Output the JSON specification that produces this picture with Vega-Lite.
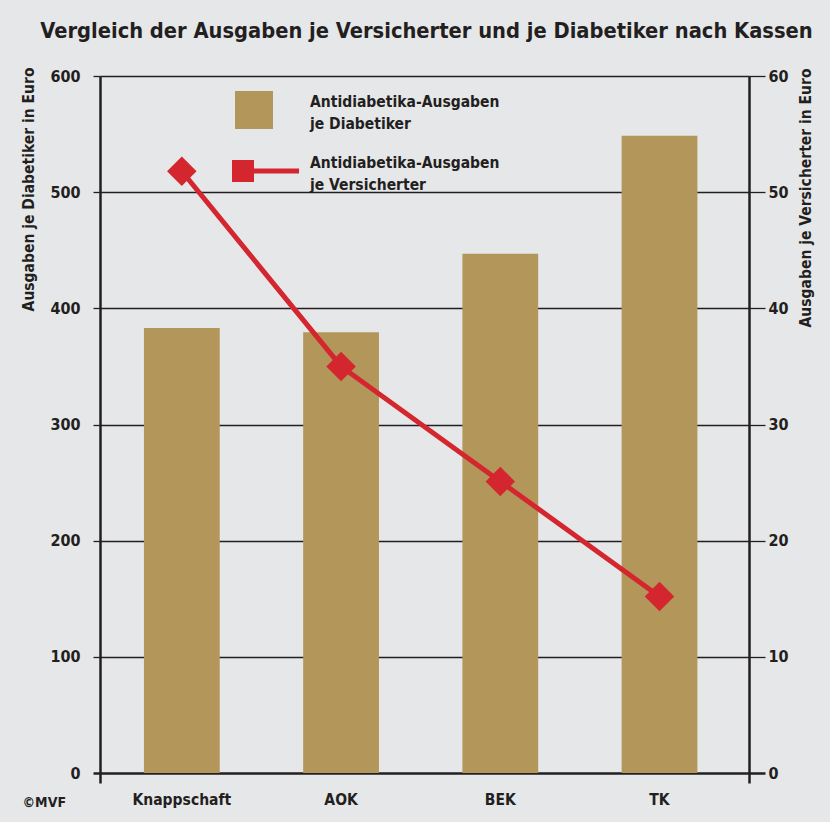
{
  "$schema": "https://vega.github.io/schema/vega-lite/v6.json",
  "width": 649,
  "height": 707,
  "autosize": {"type": "none"},
  "padding": {"left": 100, "top": 76, "right": 81, "bottom": 39},
  "background": "#e6e7e9",
  "config": {
    "view": {"stroke": null},
    "font": "DejaVu Sans Condensed, Liberation Sans Narrow, Roboto Condensed, sans-serif",
    "axis": {"labelFont": "DejaVu Sans Condensed, Liberation Sans Narrow, sans-serif", "titleFont": "DejaVu Sans Condensed, Liberation Sans Narrow, sans-serif"},
    "legend": {"labelFont": "DejaVu Sans Condensed, Liberation Sans Narrow, sans-serif"}
  },
  "title": {
    "text": "Vergleich der Ausgaben je Versicherter und je Diabetiker nach Kassen",
    "font": "DejaVu Sans Condensed, Liberation Sans Narrow, sans-serif",
    "fontSize": 21.7,
    "fontWeight": "bold",
    "color": "#231f20",
    "anchor": "middle",
    "baseline": "alphabetic",
    "offset": 7,
    "dx": 2
  },
  "data": {
    "values": [
      {"kasse": "Knappschaft", "diabetiker": 383, "versicherter": 51.8},
      {"kasse": "AOK", "diabetiker": 379.5, "versicherter": 35.0},
      {"kasse": "BEK", "diabetiker": 447, "versicherter": 25.1},
      {"kasse": "TK", "diabetiker": 548.5, "versicherter": 15.2}
    ]
  },
  "encoding": {
    "x": {
      "field": "kasse",
      "type": "nominal",
      "sort": null,
      "scale": {"paddingInner": 0.524, "paddingOuter": 0.3, "align": 0.46},
      "axis": {
        "labelAngle": 0,
        "labelFontSize": 15.5,
        "labelFontWeight": "bold",
        "labelColor": "#231f20",
        "labelPadding": 9,
        "domain": false,
        "ticks": false,
        "tickSize": 0,
        "title": "©MVF",
        "titleFontSize": 14,
        "titleFontWeight": "bold",
        "titleColor": "#231f20",
        "titleX": -78,
        "titleY": 23,
        "titleAlign": "left",
        "titleBaseline": "alphabetic"
      }
    }
  },
  "layer": [
    {
      "mark": {"type": "bar"},
      "encoding": {
        "y": {
          "field": "diabetiker",
          "type": "quantitative",
          "scale": {"domain": [-8.6, 600], "nice": false, "zero": false},
          "axis": {
            "orient": "left",
            "values": [0, 100, 200, 300, 400, 500, 600],
            "grid": true,
            "gridColor": "#231f20",
            "gridOpacity": 1,
            "gridWidth": {"condition": {"test": "datum.value == 0", "value": 2.5}, "value": 1.3},
            "tickSize": 7,
            "tickColor": "#231f20",
            "tickWidth": {"condition": {"test": "datum.value == 0", "value": 2.5}, "value": 1.3},
            "domainColor": "#231f20",
            "domainWidth": 2.5,
            "labelFontSize": 16,
            "labelFontWeight": "bold",
            "labelColor": "#231f20",
            "labelPadding": 13,
            "title": "Ausgaben je Diabetiker in Euro",
            "titleFontSize": 15.5,
            "titleFontWeight": "bold",
            "titleColor": "#231f20",
            "titleAngle": -90,
            "titleAlign": "right",
            "titleBaseline": "middle",
            "titleX": -72,
            "titleY": -9
          }
        },
        "color": {
          "datum": "Antidiabetika-Ausgaben je Diabetiker",
          "scale": {
            "domain": ["Antidiabetika-Ausgaben je Diabetiker", "Antidiabetika-Ausgaben je Versicherter"],
            "range": ["#b3965a", "#d4262e"]
          },
          "legend": {
            "orient": "none",
            "legendX": 135,
            "legendY": 15,
            "title": null,
            "padding": 0,
            "symbolSize": 1444,
            "symbolStrokeWidth": 0,
            "labelOffset": 37,
            "labelFontSize": 15.5,
            "labelFontWeight": "bold",
            "labelColor": "#231f20",
            "labelBaseline": "middle",
            "labelLimit": 0,
            "rowPadding": 20,
            "labelExpr": "[slice(datum.label, 0, 22), slice(datum.label, 23)]",
            "encode": {
              "symbols": {
                "update": {
                  "shape": {"signal": "datum.value == 'Antidiabetika-Ausgaben je Versicherter' ? 'M-1.158,-0.579L0,-0.579L0,-0.13L2.37,-0.13L2.37,0.13L0,0.13L0,0.579L-1.158,0.579Z' : 'square'"},
                  "fill": {"scale": "color", "field": "value"},
                  "stroke": {"value": "transparent"},
                  "strokeWidth": {"value": 0},
                  "opacity": {"value": 1}
                }
              },
              "labels": {"update": {"lineHeight": {"value": 22}, "dy": {"value": -8.5}}}
            }
          }
        }
      }
    },
    {
      "mark": {"type": "line", "strokeWidth": 5, "point": {"filled": true, "shape": "diamond", "size": 870, "opacity": 1}},
      "encoding": {
        "y": {
          "field": "versicherter",
          "type": "quantitative",
          "scale": {"domain": [-0.86, 60], "nice": false, "zero": false},
          "axis": {
            "orient": "right",
            "values": [0, 10, 20, 30, 40, 50, 60],
            "grid": false,
            "tickSize": 16,
            "tickColor": "#231f20",
            "tickWidth": {"condition": {"test": "datum.value == 0", "value": 2.5}, "value": 1.3},
            "domainColor": "#231f20",
            "domainWidth": 2.5,
            "labelFontSize": 16,
            "labelFontWeight": "bold",
            "labelColor": "#231f20",
            "labelPadding": 3,
            "title": "Ausgaben je Versicherter in Euro",
            "titleFontSize": 15.5,
            "titleFontWeight": "bold",
            "titleColor": "#231f20",
            "titleAngle": -90,
            "titleAlign": "right",
            "titleBaseline": "middle",
            "titleX": 56,
            "titleY": -8
          }
        },
        "color": {"datum": "Antidiabetika-Ausgaben je Versicherter"}
      }
    }
  ],
  "resolve": {"scale": {"y": "independent"}}
}
